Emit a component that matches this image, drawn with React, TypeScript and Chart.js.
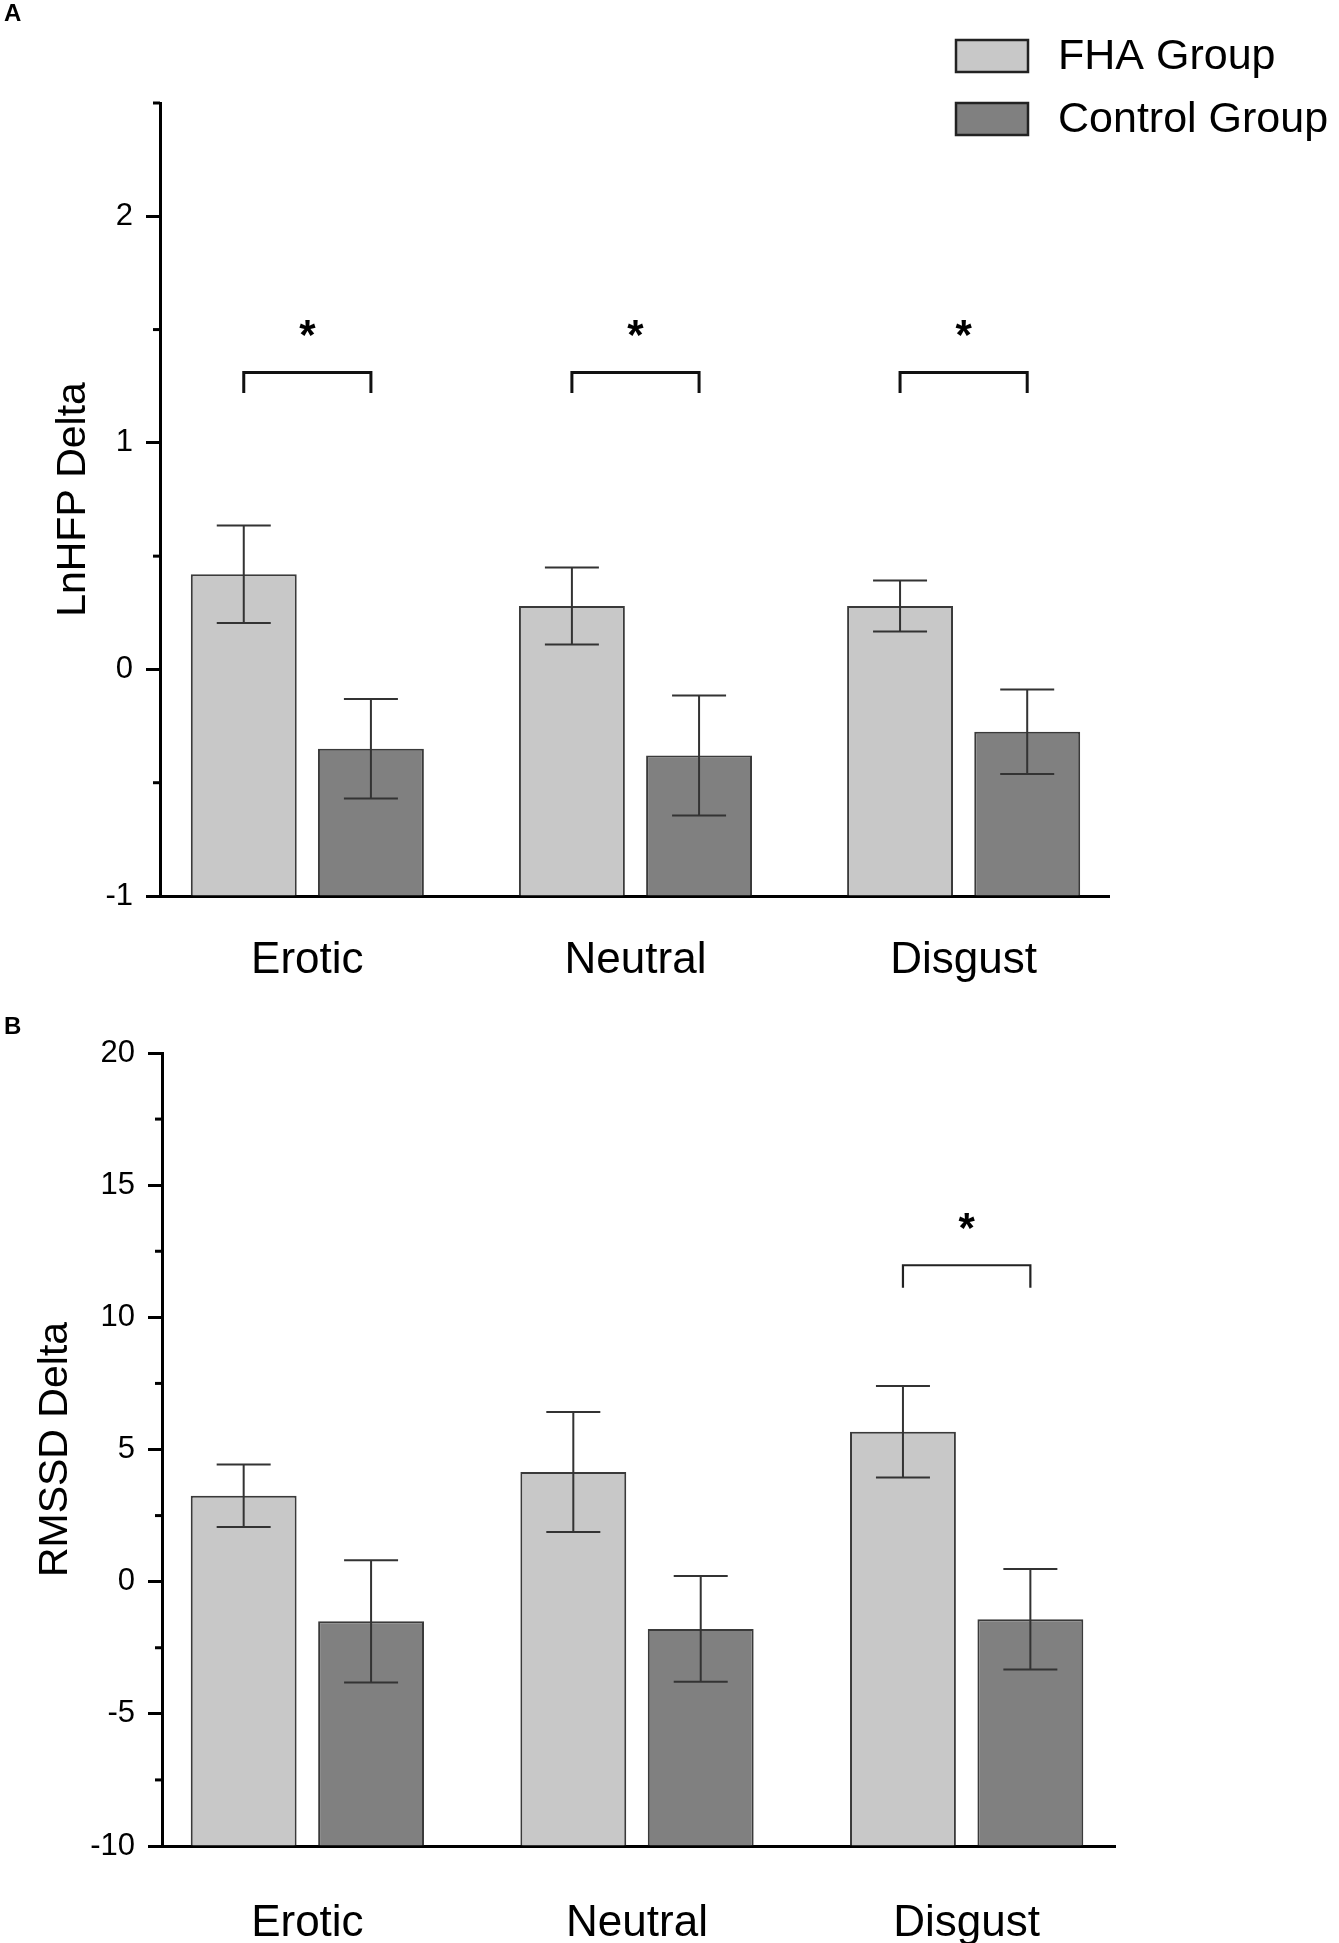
import { useEffect, useRef } from "react";
import Chart from "chart.js/auto";

const categories = ["Erotic", "Neutral", "Disgust"];
const seriesLabels = ["FHA Group", "Control Group"];

// Panel A - LnHFP delta (mean and error bar half-length)
const lnhfpFHA = [0.42, 0.28, 0.28];
const lnhfpFHAErr = [0.215, 0.17, 0.113];
const lnhfpControl = [-0.35, -0.38, -0.275];
const lnhfpControlErr = [0.22, 0.265, 0.186];
const lnhfpSignificant = [true, true, true];
const lnhfpBracket = [1.31, 1.22]; // bracket top, bracket feet
const lnhfpStar = 1.5;

// Panel B - RMSSD delta
const rmssdFHA = [3.25, 4.15, 5.67];
const rmssdFHAErr = [1.18, 2.27, 1.73];
const rmssdControl = [-1.5, -1.79, -1.42];
const rmssdControlErr = [2.31, 2.0, 1.9];
const rmssdSignificant = [false, false, true];
const rmssdBracket = [11.97, 11.12];
const rmssdStar = 13.6;

const FONT = '"Liberation Sans", Arial, sans-serif';
const W = 1339;

interface PanelProps {
  top: number;
  height: number;
  fha: number[];
  fhaErr: number[];
  control: number[];
  controlErr: number[];
  significant: boolean[];
  bracket: number[];
  star: number;
  yMin: number;
  yMax: number;
  minorStep: number;
  majorStep: number;
  yTitle: string;
  area: { left: number; right: number; top: number; bottom: number };
  xRange: [number, number];
  titleOffset: number;
  labelPad: number;
  catPct: number;
  barPct: number;
  bracketWidth: number;
  bracketColor: string;
  showLegend: boolean;
}

function Panel(p: PanelProps) {
  const chartRef = useRef<HTMLCanvasElement | null>(null);
  const chartInstance = useRef<Chart<any> | null>(null);

  useEffect(() => {
    if (!chartRef.current) return;
    if (chartInstance.current) chartInstance.current.destroy();

    const isMajor = (v: number) =>
      Math.abs(v / p.majorStep - Math.round(v / p.majorStep)) < 1e-6;
    const errs = [p.fhaErr, p.controlErr];

    // error bars, significance brackets, minor ticks and legend
    const extras = {
      id: "extras",
      afterDatasetsDraw(chart: any) {
        const { ctx } = chart;
        const y = chart.scales.y;
        ctx.save();
        ctx.strokeStyle = "#333";
        ctx.lineWidth = 2;
        chart.data.datasets.forEach((ds: any, d: number) => {
          const meta = chart.getDatasetMeta(d);
          meta.data.forEach((bar: any, i: number) => {
            const v = ds.data[i].y;
            const e = errs[d][i];
            const y1 = y.getPixelForValue(v + e);
            const y2 = y.getPixelForValue(v - e);
            ctx.beginPath();
            ctx.moveTo(bar.x, y1);
            ctx.lineTo(bar.x, y2);
            ctx.moveTo(bar.x - 27, y1);
            ctx.lineTo(bar.x + 27, y1);
            ctx.moveTo(bar.x - 27, y2);
            ctx.lineTo(bar.x + 27, y2);
            ctx.stroke();
          });
        });
        ctx.restore();
      },
      afterDraw(chart: any) {
        const { ctx } = chart;
        const y = chart.scales.y;
        ctx.save();

        // minor ticks
        ctx.strokeStyle = "#000";
        ctx.lineWidth = 3;
        y.ticks.forEach((t: any) => {
          if (isMajor(t.value)) return;
          const py = y.getPixelForValue(t.value);
          ctx.beginPath();
          ctx.moveTo(y.right - 7, py);
          ctx.lineTo(y.right, py);
          ctx.stroke();
        });

        // brackets + asterisks
        const m0 = chart.getDatasetMeta(0);
        const m1 = chart.getDatasetMeta(1);
        p.significant.forEach((sig, i) => {
          if (!sig) return;
          const x0 = m0.data[i].x;
          const x1 = m1.data[i].x;
          const yt = y.getPixelForValue(p.bracket[0]);
          const yb = y.getPixelForValue(p.bracket[1]);
          ctx.strokeStyle = p.bracketColor;
          ctx.lineWidth = p.bracketWidth;
          ctx.lineJoin = "miter";
          ctx.beginPath();
          ctx.moveTo(x0, yb);
          ctx.lineTo(x0, yt);
          ctx.lineTo(x1, yt);
          ctx.lineTo(x1, yb);
          ctx.stroke();
          ctx.fillStyle = "#000";
          ctx.font = `bold 42px ${FONT}`;
          ctx.textAlign = "center";
          ctx.textBaseline = "middle";
          ctx.fillText("*", (x0 + x1) / 2, y.getPixelForValue(p.star) + 8);
        });

        // legend
        if (p.showLegend) {
          chart.data.datasets.forEach((ds: any, d: number) => {
            const by = 40 + d * 63;
            ctx.fillStyle = ds.backgroundColor;
            ctx.fillRect(956, by, 72, 32);
            ctx.strokeStyle = "#222";
            ctx.lineWidth = 2.5;
            ctx.strokeRect(956, by, 72, 32);
            ctx.fillStyle = "#000";
            ctx.font = `43px ${FONT}`;
            ctx.textAlign = "left";
            ctx.textBaseline = "middle";
            ctx.fillText(ds.label, 1058, by + 17.5);
          });
        }
        ctx.restore();
      },
    };

    chartInstance.current = new Chart(chartRef.current, {
      type: "bar",
      data: {
        datasets: [
          {
            label: seriesLabels[0],
            data: p.fha.map((v, i) => ({ x: i + 1, y: v })),
            backgroundColor: "#c8c8c8",
            borderColor: "#3a3a3a",
            borderWidth: 2,
            base: p.yMin,
            categoryPercentage: p.catPct,
            barPercentage: p.barPct,
          },
          {
            label: seriesLabels[1],
            data: p.control.map((v, i) => ({ x: i + 1, y: v })),
            backgroundColor: "#808080",
            borderColor: "#3a3a3a",
            borderWidth: 2,
            base: p.yMin,
            categoryPercentage: p.catPct,
            barPercentage: p.barPct,
          },
        ],
      } as any,
      options: {
        animation: false,
        responsive: true,
        maintainAspectRatio: false,
        layout: {
          padding: { top: p.area.top, right: W - p.area.right, bottom: 0, left: 0 },
        },
        plugins: { legend: { display: false }, tooltip: { enabled: false } },
        scales: {
          x: {
            type: "linear",
            bounds: "data",
            offset: false,
            min: p.xRange[0],
            max: p.xRange[1],
            afterBuildTicks: (s: any) => {
              s.ticks = categories.map((_, i) => ({ value: i + 1 }));
            },
            afterFit: (s: any) => {
              s.height = p.height - p.area.bottom;
            },
            grid: { display: false, offset: false },
            border: { display: true, color: "#000", width: 3 },
            ticks: {
              autoSkip: false,
              maxRotation: 0,
              padding: p.labelPad,
              color: "#000",
              font: { family: FONT, size: 44 },
              callback: (v: any) => categories[Math.round(Number(v)) - 1],
            },
          },
          y: {
            min: p.yMin,
            max: p.yMax,
            afterFit: (s: any) => {
              s.width = p.area.left;
            },
            grid: {
              drawOnChartArea: false,
              drawTicks: true,
              tickLength: 14,
              tickWidth: 3,
              tickColor: (c: any) =>
                c.tick && isMajor(c.tick.value) ? "#000" : "rgba(0,0,0,0)",
            },
            border: { display: true, color: "#000", width: 3 },
            ticks: {
              stepSize: p.minorStep,
              autoSkip: false,
              padding: 13,
              color: "#000",
              font: { family: FONT, size: 31 },
              callback: (v: any) => (isMajor(Number(v)) ? String(v) : ""),
            },
            title: {
              display: true,
              text: p.yTitle,
              color: "#000",
              font: { family: FONT, size: 41 },
              padding: { top: p.titleOffset, bottom: 0 },
            },
          },
        },
      } as any,
      plugins: [extras],
    });

    return () => {
      if (chartInstance.current) {
        chartInstance.current.destroy();
        chartInstance.current = null;
      }
    };
  }, []);

  return (
    <div style={{ position: "absolute", left: 0, top: p.top, width: W, height: p.height }}>
      <canvas ref={chartRef} />
    </div>
  );
}

const letterStyle = {
  position: "absolute" as const,
  left: 4,
  fontFamily: FONT,
  fontWeight: "bold" as const,
  fontSize: 24,
  lineHeight: "24px",
  color: "#000",
};

export default function App() {
  return (
    <div>
      <Panel
        top={0}
        height={1000}
        fha={lnhfpFHA}
        fhaErr={lnhfpFHAErr}
        control={lnhfpControl}
        controlErr={lnhfpControlErr}
        significant={lnhfpSignificant}
        bracket={lnhfpBracket}
        star={lnhfpStar}
        yMin={-1}
        yMax={2.5}
        minorStep={0.5}
        majorStep={1}
        yTitle="LnHFP Delta"
        area={{ left: 160, right: 1109, top: 103, bottom: 896 }}
        xRange={[0.551, 3.443]}
        titleOffset={49}
        labelPad={30}
        catPct={0.775}
        barPct={0.833}
        bracketWidth={3}
        bracketColor="#111"
        showLegend={true}
      />
      <Panel
        top={1000}
        height={943}
        fha={rmssdFHA}
        fhaErr={rmssdFHAErr}
        control={rmssdControl}
        controlErr={rmssdControlErr}
        significant={rmssdSignificant}
        bracket={rmssdBracket}
        star={rmssdStar}
        yMin={-10}
        yMax={20}
        minorStep={2.5}
        majorStep={5}
        yTitle="RMSSD Delta"
        area={{ left: 162, right: 1115, top: 53, bottom: 846 }}
        xRange={[0.559, 3.45]}
        titleOffset={31}
        labelPad={43}
        catPct={0.773}
        barPct={0.831}
        bracketWidth={2.2}
        bracketColor="#222"
        showLegend={false}
      />
      <div style={{ ...letterStyle, top: 1 }}>A</div>
      <div style={{ ...letterStyle, top: 1014 }}>B</div>
    </div>
  );
}
